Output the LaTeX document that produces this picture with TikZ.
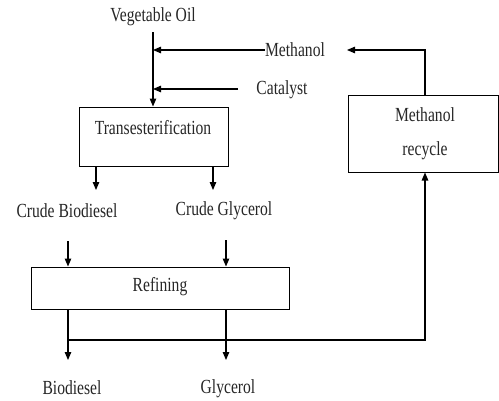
\documentclass[tikz,border=0pt]{standalone}
\usepackage{fontspec}
\usepackage{graphicx}
\setmainfont{Liberation Serif}
\usetikzlibrary{arrows.meta}
\newcommand\sx[1]{\scalebox{0.78}[1]{#1}}
\tikzset{
  lbl/.style={inner sep=0pt, font=\fontsize{20}{23}\selectfont, text=black!85},
  boxnode/.style={draw, line width=1pt, inner sep=0pt},
  flow/.style={line width=1.1pt, -{Triangle[length=8pt,width=6.5pt]}},
  plain/.style={line width=1.1pt}
}
\begin{document}
\begin{tikzpicture}[x=1pt,y=-1pt]
\useasboundingbox (0,0) rectangle (499,400);
% boxes
\node[boxnode, minimum width=149pt, minimum height=59pt] (trans) at (153.5,136.5) {};
\node[lbl] (transt) at (153,128) {\sx{Transesterification}};
\node[boxnode, minimum width=258pt, minimum height=42pt] (ref) at (160,288) {};
\node[lbl] (reft) at (160,287) {\sx{Refining}};
\node[boxnode, minimum width=150pt, minimum height=77pt] (rec) at (423,133.5) {};
\node[lbl] (rect1) at (425,115) {\sx{Methanol}};
\node[lbl] (rect2) at (425,151) {\sx{recycle}};
% labels
\node[lbl] (veg) at (153,17) {\sx{Vegetable Oil}};
\node[lbl] (meth) at (295,50) {\sx{Methanol}};
\node[lbl] (cat) at (282,90) {\sx{Catalyst}};
\node[lbl] (cb) at (67,211) {\sx{Crude Biodiesel}};
\node[lbl] (cg) at (224,211) {\sx{Crude Glycerol}};
\node[lbl] (bio) at (72,388) {\sx{Biodiesel}};
\node[lbl] (gly) at (228,389) {\sx{Glycerol}};
% coordinates
\coordinate (vtop) at (153,32);
\coordinate (vm) at (153,50);
\coordinate (vc) at (153,89);
\coordinate (cstart) at (238,89);
\coordinate (recin) at (347,50);
\coordinate (t1) at (96,190);
\coordinate (t2) at (213,190);
\coordinate (c1) at (68,241);
\coordinate (c2) at (226,240);
\coordinate (o1) at (68,360);
\coordinate (o2) at (226,360);
\coordinate (j1) at (68,340);
% connectors
\draw[flow] (vtop) -- (vtop |- trans.north);
\draw[flow] (meth.west) -- (vm);
\draw[flow] (cstart) -- (vc);
\draw[flow] (rec.north -| rect1) |- (recin);
\draw[flow] (t1 |- trans.south) -- (t1);
\draw[flow] (t2 |- trans.south) -- (t2);
\draw[flow] (c1) -- (c1 |- ref.north);
\draw[flow] (c2) -- (c2 |- ref.north);
\draw[flow] (o1 |- ref.south) -- (o1);
\draw[flow] (o2 |- ref.south) -- (o2);
\draw[flow] (j1) -| (rec.south -| rect1);
\end{tikzpicture}
\end{document}
